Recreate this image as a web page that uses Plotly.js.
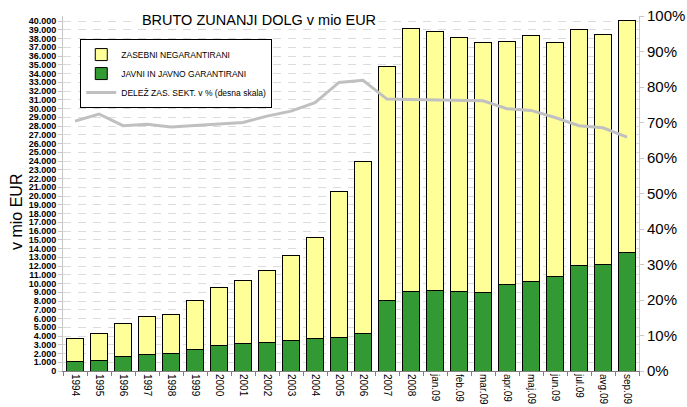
<!DOCTYPE html>
<html>
<head>
<meta charset="utf-8">
<script src="https://cdn.plot.ly/plotly-3.0.1.min.js"></script>
<style>
html,body{margin:0;padding:0;background:#fff;}
#chart{width:687px;height:407px;}
</style>
</head>
<body>
<div id="chart"></div>
<script>
var categories = ['1994','1995','1996','1997','1998','1999','2000','2001','2002','2003','2004','2005','2006','2007','2008',
  'jan.09','feb.09','mar.09','apr.09','maj.09','jun.09','jul.09','avg.09','sep.09'];
var javni = [1140,1180,1700,1830,2020,2480,2900,3120,3280,3540,3730,3850,4340,8110,9140,
  9250,9130,8930,9830,10280,10850,12100,12120,13600];
var zasebni = [2590,3120,3700,4370,4460,5550,6620,7240,8260,9660,11570,16650,19660,26690,30030,
  29550,29040,28570,27870,28120,26710,26900,26380,26480];
var delez = [0.704,0.724,0.691,0.695,0.687,0.691,0.696,0.700,0.718,0.732,0.756,0.813,0.819,0.766,0.765,
  0.763,0.761,0.761,0.739,0.734,0.714,0.691,0.685,0.659];
var names = ['ZASEBNI NEGARANTIRANI','JAVNI IN JAVNO GARANTIRANI','DELEŽ ZAS. SEKT. v % (desna skala)'];

var sans = 'Arial, "Liberation Sans", sans-serif';

var traces = [
  {type:'bar', name:names[1], x:categories, y:javni, legendrank:2,
   marker:{color:'#339933', line:{color:'#000000', width:1}}},
  {type:'bar', name:names[0], x:categories, y:zasebni, legendrank:1,
   marker:{color:'#FFFF99', line:{color:'#000000', width:1}}},
  {type:'scatter', mode:'lines', name:names[2], x:categories, y:delez, yaxis:'y2', legendrank:3,
   line:{color:'#C0C0C0', width:3}}
];

var layout = {
  width:687, height:407,
  margin:{l:63, r:48, t:16, b:36},
  paper_bgcolor:'#ffffff', plot_bgcolor:'#ffffff',
  barmode:'stack', bargap:0.33,
  separators:',.',
  showlegend:true,
  legend:{x:0.03, y:0.935, xanchor:'left', yanchor:'top', traceorder:'normal',
    bgcolor:'#ffffff', bordercolor:'#000000', borderwidth:1,
    font:{family:sans, size:8.5, color:'#000000'}},
  title:{text:'BRUTO ZUNANJI DOLG v mio EUR', x:259/687, xref:'container', xanchor:'center',
    y:1-20/407, yref:'container', yanchor:'middle',
    font:{family:sans, size:14.5, color:'#000000'}},
  xaxis:{type:'category', showline:true, linecolor:'#808080', linewidth:1,
    ticks:'outside', tickson:'boundaries', ticklen:4, tickcolor:'#808080',
    tickangle:90, tickfont:{family:sans, size:10, color:'#000000'},
    showgrid:false, zeroline:false, fixedrange:true},
  yaxis:{range:[0,40571], dtick:1000, tick0:0, tickformat:',.0f',
    tickfont:{family:sans, size:9, color:'#000000', weight:'bold'},
    showline:true, linecolor:'#c8c8c8', linewidth:1,
    ticks:'outside', ticklen:4, tickcolor:'#c8c8c8',
    showgrid:true, gridcolor:'#dcdcdc', gridwidth:1, griddash:'8px,7px',
    zeroline:false, fixedrange:true},
  yaxis2:{overlaying:'y', side:'right', range:[0,1], dtick:0.1, tick0:0, tickformat:'.0%',
    tickfont:{family:sans, size:15, color:'#000000'},
    showline:true, linecolor:'#c8c8c8', linewidth:1,
    ticks:'outside', ticklen:4, tickcolor:'#c8c8c8',
    showgrid:false, zeroline:false, fixedrange:true},
  shapes:[
    {type:'rect', xref:'paper', yref:'paper', x0:(138-63)/576, x1:(378-63)/576,
     y0:(371-29)/355, y1:1.0, fillcolor:'#ffffff', line:{width:0}, layer:'above'}
  ],
  annotations:[
    {text:'v mio EUR', xref:'paper', yref:'paper', x:(17-63)/576, y:(371-212)/355,
     xanchor:'center', yanchor:'middle', textangle:-90, showarrow:false,
     font:{family:sans, size:16, color:'#000000'}}
  ]
};

Plotly.newPlot('chart', traces, layout, {displayModeBar:false, staticPlot:true});
</script>
</body>
</html>
